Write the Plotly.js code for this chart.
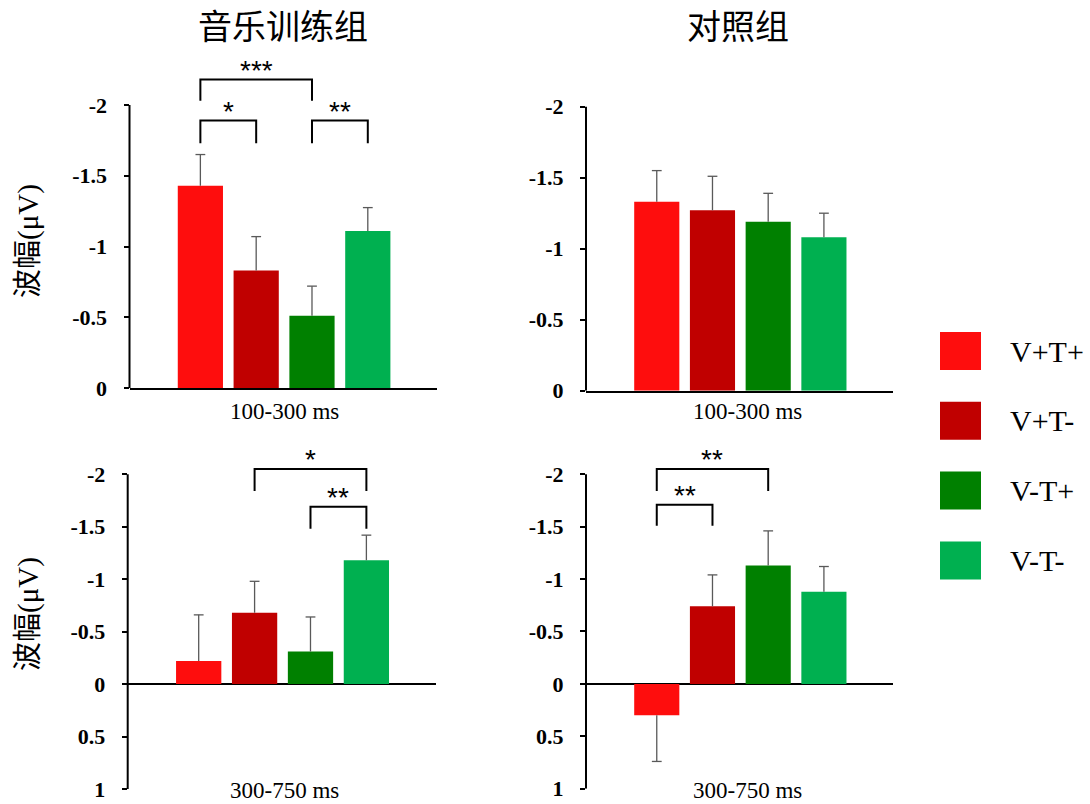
<!DOCTYPE html>
<html>
<head>
<meta charset="utf-8">
<script src="https://cdn.plot.ly/plotly-3.0.1.min.js"></script>
<style>html,body{margin:0;padding:0;background:#fff}</style>
</head>
<body>
<div id="chart" style="width:1090px;height:804px"></div>
<script>
// Conditions and their colours
const conditions = ['V+T+', 'V+T-', 'V-T+', 'V-T-'];
const conditionColors = ['#FE0D0D', '#C00000', '#008000', '#00B050'];
const groupTitles = ['音乐训练组', '对照组'];
const windowLabels = ['100-300 ms', '300-750 ms'];
const amplitudeTitle = '波幅(μV)';

// Mean amplitudes (μV) and error values per condition
const musicEarly = [-1.43, -0.83, -0.51, -1.11];
const musicEarlyErr = [0.22, 0.24, 0.21, 0.165];
const controlEarly = [-1.33, -1.27, -1.19, -1.08];
const controlEarlyErr = [0.22, 0.24, 0.20, 0.17];
const musicLate = [-0.22, -0.68, -0.31, -1.18];
const musicLateErr = [0.44, 0.30, 0.33, 0.24];
const controlLate = [0.30, -0.74, -1.13, -0.88];
const controlLateErr = [0.44, 0.30, 0.33, 0.24];

// Tick values and labels
const earlyTickVals = [-2, -1.5, -1, -0.5, 0];
const earlyTickText = ['-2', '-1.5', '-1', '-0.5', '0'];
const lateTickVals = [-2, -1.5, -1, -0.5, 0, 0.5, 1];
const lateTickText = ['-2', '-1.5', '-1', '-0.5', '0', '0.5', '1'];

// Significance brackets: [from condition, to condition, bracket level, leg end, stars]
const musicEarlySig = [[0, 2, -2.18, -2.03, '***'], [0, 1, -1.89, -1.73, '*'], [2, 3, -1.89, -1.73, '**']];
const controlEarlySig = [];
const musicLateSig = [[1, 3, -2.05, -1.84, '*'], [2, 3, -1.69, -1.48, '**']];
const controlLateSig = [[0, 2, -2.05, -1.84, '**'], [0, 1, -1.71, -1.51, '**']];

const W = 1090, H = 804;
const px = v => v / W;
const py = v => 1 - v / H;

const TOP_RANGE = -2.35;
const xIdx = conditions.map((c, i) => i);
const ERR_COLOR = '#595959';

// Panel layout (pixel boxes of each plotting area)
const panels = [
  { vals: musicEarly, err: musicEarlyErr, sig: musicEarlySig, n: 1, box: [129.5, 437, 55.5, 388], bottom: 0, tv: earlyTickVals, tt: earlyTickText, title: groupTitles[0], label: windowLabels[0], labelX: 284, labelY: 411 },
  { vals: controlEarly, err: controlEarlyErr, sig: controlEarlySig, n: 2, box: [586, 893, 57, 390.7], bottom: 0, tv: earlyTickVals, tt: earlyTickText, title: groupTitles[1], label: windowLabels[0], labelX: 747.5, labelY: 411 },
  { vals: musicLate, err: musicLateErr, sig: musicLateSig, n: 3, box: [127.7, 435.7, 437.6, 789], bottom: 1, tv: lateTickVals, tt: lateTickText, title: null, label: windowLabels[1], labelX: 284, labelY: 790 },
  { vals: controlLate, err: controlLateErr, sig: controlLateSig, n: 4, box: [586, 893, 437.6, 788.7], bottom: 1, tv: lateTickVals, tt: lateTickText, title: null, label: windowLabels[1], labelX: 747.5, labelY: 790 }
];

const traces = [];
const layout = {
  width: W, height: H,
  margin: { l: 0, r: 0, t: 0, b: 0 },
  paper_bgcolor: '#fff', plot_bgcolor: 'rgba(0,0,0,0)',
  showlegend: false,
  bargap: 0.19,
  shapes: [], annotations: []
};

const serifFont = { family: 'Liberation Serif', size: 23, color: '#000' };

panels.forEach(p => {
  const xs = p.n === 1 ? '' : String(p.n);
  const xa = 'x' + xs, ya = 'y' + xs;
  // error bars extend away from zero only
  const plus = p.vals.map((v, i) => v > 0 ? p.err[i] : 0);
  const minus = p.vals.map((v, i) => v > 0 ? 0 : p.err[i]);
  const capY = p.vals.map((v, i) => v > 0 ? v + p.err[i] : v - p.err[i]);
  traces.push({
    type: 'bar', x: xIdx, y: p.vals, xaxis: xa, yaxis: ya,
    marker: { color: conditionColors, line: { width: 0 } },
    error_y: { type: 'data', symmetric: false, array: plus, arrayminus: minus, color: ERR_COLOR, thickness: 1.3, width: 0 },
    hoverinfo: 'skip'
  });
  // caps at the outer end of each error bar
  traces.push({
    type: 'scatter', mode: 'markers', x: xIdx, y: capY, xaxis: xa, yaxis: ya,
    marker: { symbol: 'line-ew', size: 7, line: { color: ERR_COLOR, width: 1.3 } },
    hoverinfo: 'skip', cliponaxis: false
  });

  layout['xaxis' + xs] = {
    domain: [px(p.box[0]), px(p.box[1])], anchor: ya,
    range: [-1.27, 4.24], showticklabels: false, ticks: '', showgrid: false, zeroline: false,
    showline: p.bottom === 0, linecolor: '#000', linewidth: 2
  };
  layout['yaxis' + xs] = {
    domain: [py(p.box[3]), py(p.box[2])], anchor: xa,
    range: [p.bottom, TOP_RANGE], tickmode: 'array', tickvals: p.tv, ticktext: p.tt,
    ticks: 'outside', ticklen: 5, tickwidth: 2, tickcolor: '#000',
    ticklabelstandoff: 12,
    tickfont: { family: 'Liberation Serif', size: 22, color: '#000', weight: 700 },
    showgrid: false, showline: false,
    zeroline: p.bottom !== 0, zerolinecolor: '#000', zerolinewidth: 2
  };

  // vertical axis line from the bottom value up to -2
  layout.shapes.push({ type: 'line', xref: xa + ' domain', yref: ya, x0: 0, x1: 0, y0: p.bottom, y1: p.tv[0], line: { color: '#000', width: 2 } });

  // significance brackets with stars
  p.sig.forEach(s => {
    const [a, b, lvl, leg, stars] = s;
    layout.shapes.push({ type: 'path', xref: xa, yref: ya, path: `M ${a},${leg} L ${a},${lvl} L ${b},${lvl} L ${b},${leg}`, line: { color: '#000', width: 2 } });
    layout.annotations.push({ xref: xa, yref: ya, x: (a + b) / 2, y: lvl, yanchor: 'bottom', yshift: -8, text: stars, showarrow: false, font: { family: 'Liberation Sans', size: 28, color: '#000' } });
  });

  // time window label
  layout.annotations.push({ xref: 'paper', yref: 'paper', x: px(p.labelX), y: py(p.labelY), xanchor: 'center', yanchor: 'middle', text: p.label, showarrow: false, font: serifFont });

  if (p.title) {
    layout.annotations.push({ xref: 'paper', yref: 'paper', x: px((p.box[0] + p.box[1]) / 2 + (p.n === 2 ? -2 : 0)), y: py(25), xanchor: 'center', yanchor: 'middle', text: p.title, showarrow: false, font: { family: 'Noto Sans CJK SC', size: 34, color: '#000' } });
  }
});

// amplitude titles on the left
[241, 614].forEach(yc => {
  layout.annotations.push({ xref: 'paper', yref: 'paper', x: px(28), y: py(yc), xanchor: 'center', yanchor: 'middle', textangle: -90, text: amplitudeTitle, showarrow: false, font: { family: 'Liberation Serif, Noto Sans CJK SC', size: 29, color: '#000' } });
});

// legend: coloured squares with condition names
conditions.forEach((c, i) => {
  const cy = 351 + i * 69.8;
  layout.shapes.push({ type: 'rect', xref: 'paper', yref: 'paper', x0: px(940), x1: px(981), y0: py(cy + 19), y1: py(cy - 19), fillcolor: conditionColors[i], line: { width: 0 } });
  layout.annotations.push({ xref: 'paper', yref: 'paper', x: px(1008), y: py(cy), xanchor: 'left', yanchor: 'middle', text: c, showarrow: false, font: { family: 'Liberation Serif', size: 30, color: '#000' } });
});

Plotly.newPlot('chart', traces, layout, { staticPlot: true, displayModeBar: false });
</script>
</body>
</html>
